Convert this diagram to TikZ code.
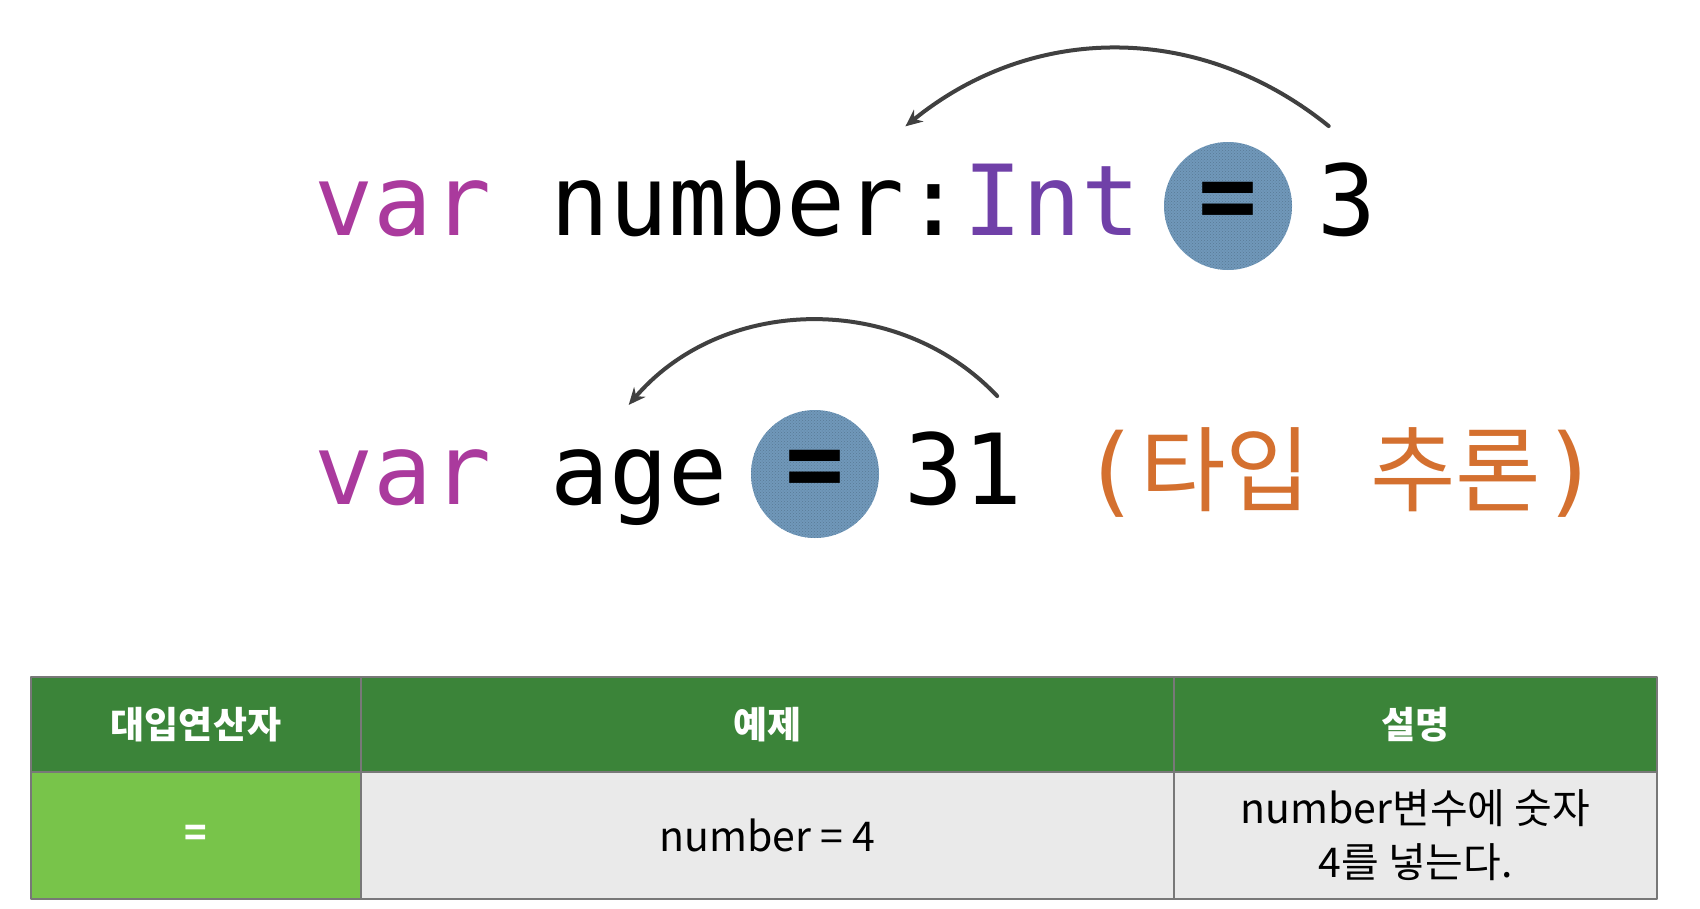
\documentclass[tikz,border=0pt]{standalone}
\usepackage{fontspec}
\newfontfamily\codefont{DejaVu Sans Mono}
\newfontfamily\krfont{Noto Sans CJK KR}
\usetikzlibrary{arrows.meta,patterns}
\definecolor{kwmag}{RGB}{170,58,157}
\definecolor{typepur}{RGB}{112,64,168}
\definecolor{infer}{RGB}{212,112,47}
\definecolor{opblue}{RGB}{112,152,186}
\definecolor{hdgreen}{RGB}{59,132,57}
\definecolor{opgreen}{RGB}{120,196,74}
\definecolor{cellgray}{RGB}{234,234,234}
\definecolor{gridgray}{RGB}{120,120,120}
\definecolor{arrgray}{RGB}{64,64,64}
\newcommand\krbig[1]{{\krfont\fontsize{93}{93}\selectfont #1}}
\begin{document}
\begin{tikzpicture}[x=1pt,y=-1pt,>=Stealth,line join=round,line cap=round,
	code/.style={anchor=base west,inner sep=0pt,font=\codefont\fontsize{98}{98}\selectfont},
	op/.style={circle,fill=opblue,postaction={pattern=crosshatch dots,pattern color=opblue!80!black},minimum size=128pt,inner sep=0pt,font=\codefont\bfseries\fontsize{98}{98}\selectfont},
	hcell/.style={draw=gridgray,line width=1.5pt,fill=hdgreen,text=white,minimum height=95pt,inner sep=0pt,font=\krfont\bfseries\fontsize{37}{37}\selectfont},
	bcell/.style={draw=gridgray,line width=1.5pt,fill=cellgray,minimum height=127pt,inner sep=0pt,align=center,font=\krfont\fontsize{41}{54}\selectfont},
	assign/.style={-{Stealth[length=17pt,width=15pt]},draw=arrgray,line width=4pt}]
	\useasboundingbox (0,0) rectangle (1700,908);
	% var number:Int = 3
	\node[op] (eq1) at (1228,206) {=};
	\node[code,text=kwmag] (var1) at (314,235) {var};
	\node[code] (num) at (550,235) {number:};
	\node[code,text=typepur] (int) at (963,235) {Int};
	\node[code] (three) at (1317,235) {3};
	% var age = 31 (타입 추론)
	\node[op] (eq2) at (815,474) {=};
	\node[code,text=kwmag] (var2) at (314,504) {var};
	\node[code] (age) at (550,504) {age};
	\node[code] (n31) at (904,504) {31};
	\node[code,text=infer] (infer) at (1081,504) {(\krbig{타입} \krbig{추론})};
	\path
	([xshift=-18pt,yshift=36pt]three.north) coordinate (from1)
	([xshift=-58pt,yshift=34pt]num.north east) coordinate (to1)
	([xshift=34pt,yshift=35pt]n31.north) coordinate (from2)
	([xshift=-10pt,yshift=44pt]age.north) coordinate (to2)
	;
	\draw[assign] (from1) to[bend right=39] (to1);
	\draw[assign] (from2) to[bend right=48] (to2);
	% table
	\node[hcell,minimum width=330pt] (h1) at (196,724.5) {대입연산자};
	\node[hcell,minimum width=813pt] (h2) at (767.5,724.5) {예제};
	\node[hcell,minimum width=483pt] (h3) at (1415.5,724.5) {설명};
	\node[bcell,fill=opgreen,text=white,font=\krfont\bfseries\fontsize{37}{37}\selectfont,minimum width=330pt] (c1) at (196,835.5) {=};
	\node[bcell,minimum width=813pt] (c2) at (767.5,835.5) {number = 4};
	\node[bcell,minimum width=483pt] (c3) at (1415.5,835.5) {number변수에 숫자\\4를 넣는다.};
\end{tikzpicture}
\end{document}
